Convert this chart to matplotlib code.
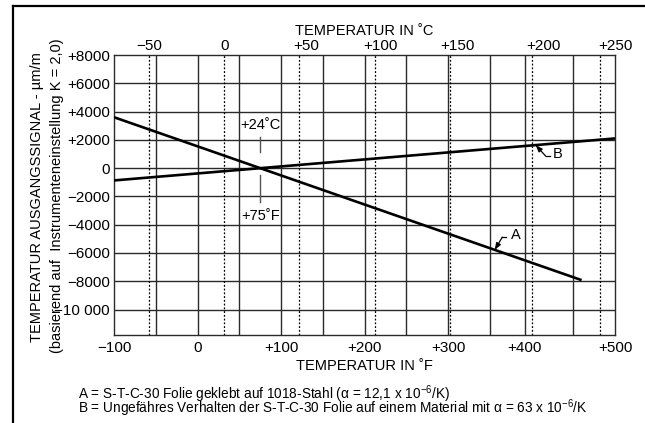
"""Temperature output signal of S-T-C-30 foil vs. temperature."""

import matplotlib

matplotlib.use("Agg")
import matplotlib.pyplot as plt
from matplotlib.lines import Line2D

plt.rcParams["font.family"] = ["Liberation Sans", "DejaVu Sans"]
plt.rcParams["mathtext.fontset"] = "custom"
plt.rcParams["mathtext.rm"] = "Liberation Sans"
plt.rcParams["mathtext.it"] = "Liberation Sans:italic"

# curve A: foil on 1018 steel, curve B: foil on material with alpha = 63e-6/K
temp_a_f = [-100, 460]
signal_a = [3600, -7920]
temp_b_f = [-100, 500]
signal_b = [-870, 2100]

# bottom axis (deg F)
f_tick_labels = ["\u2212100", "0", "+100", "+200", "+300", "+400", "+500"]
# top axis (deg C)
c_tick_labels = ["\u221250", "0", "+50", "+100", "+150", "+200", "+250"]
y_ticks = [8000, 6000, 4000, 2000, 0, -2000, -4000, -6000, -8000, -10000]
y_tick_labels = ["+8000", "+6000", "+4000", "+2000", "0", "\u22122000",
                 "\u22124000", "\u22126000", "\u22128000", "\u221210 000"]

caption_a = "A = S-T-C-30 Folie geklebt auf 1018-Stahl (\u03b1 = 12,1 x 10$^{\\mathregular{-6}}$/K)"
caption_b = ("B = Ungef\u00e4hres Verhalten der S-T-C-30 Folie auf einem Material mit "
             "\u03b1 = 63 x 10$^{\\mathregular{-6}}$/K")

# layout as it appears in the reference drawing (positions in deg F)
f_tick_pos = [-100, 0, 100, 200, 300, 392, 500]
f_grid_pos = [-50, 0, 50, 100, 150, 200, 250, 300, 350, 392, 450]
c_line_pos = [-58, 32, 122, 212, 302, 400, 482]
c_label_pos = [-58, 33, 130, 219, 311, 414, 500]

fig = plt.figure(figsize=(6.45, 4.23), dpi=100)
ax = fig.add_axes([114 / 645, 88 / 423, 501 / 645, 280 / 423])
ax.set_xlim(-100, 500)
ax.set_ylim(-11800, 8000)

grid_kw = dict(color="#2a2a2a", linewidth=1.0, zorder=1)
for x in f_grid_pos:
    ax.axvline(x, **grid_kw)
for y in y_ticks[1:]:
    ax.axhline(y, **grid_kw)
for x in c_line_pos:
    ax.axvline(x, color="black", linewidth=0.9, linestyle=(0, (1.5, 1.5)), zorder=1)

ax.plot(temp_a_f, signal_a, color="black", linewidth=1.9, solid_capstyle="butt", zorder=3)
ax.plot(temp_b_f, signal_b, color="black", linewidth=1.9, solid_capstyle="butt", zorder=3)

for s in ax.spines.values():
    s.set_linewidth(1.0)
    s.set_color("#2a2a2a")

ax.set_xticks(f_tick_pos)
ax.set_xticklabels(f_tick_labels)
ax.set_yticks(y_ticks)
ax.set_yticklabels(y_tick_labels)
ax.tick_params(axis="both", length=0, labelsize=11)
ax.tick_params(axis="x", pad=4)
ax.tick_params(axis="y", pad=3)
ax.set_xlabel("TEMPERATUR IN \u02daF", fontsize=10.5, labelpad=3)

top = ax.twiny()
top.set_xlim(ax.get_xlim())
top.set_xticks(c_label_pos)
top.set_xticklabels(c_tick_labels)
top.tick_params(axis="x", length=0, labelsize=11, pad=1.5)
top.set_xlabel("TEMPERATUR IN \u02daC", fontsize=10.5, labelpad=3)
for s in top.spines.values():
    s.set_visible(False)

# crossing point marks at 75 F / 24 C
ax.plot([75, 75], [2200, 1130], color="#555555", linewidth=1.0)
ax.plot([75, 75], [-500, -2400], color="#555555", linewidth=1.0)
ax.text(75, 3050, "+24\u02daC", ha="center", va="center", fontsize=10.5)
ax.text(75, -3400, "+75\u02daF", ha="center", va="center", fontsize=10.5)

arrow_kw = dict(arrowstyle="-|>,head_length=0.4,head_width=0.15", color="black",
                linewidth=0.9, shrinkA=0, shrinkB=0)
ax.annotate("", xy=(405, 1630), xytext=(417, 850), arrowprops=arrow_kw)
ax.plot([417, 422], [850, 850], color="black", linewidth=0.9)
ax.text(426, 1000, "B", ha="left", va="center", fontsize=10.5)
ax.annotate("", xy=(356, -5780), xytext=(365, -4880), arrowprops=arrow_kw)
ax.plot([365, 370], [-4880, -4880], color="black", linewidth=0.9)
ax.text(375, -4750, "A", ha="left", va="center", fontsize=10.5)

fig.text(37 / 645, 1 - 197 / 423, "TEMPERATUR AUSGANGSSIGNAL - \u00b5m/m",
         rotation=90, ha="center", va="center", fontsize=10.5)
fig.text(57 / 645, 1 - 196 / 423, "(basierend auf  Instrumenteneinstellung K = 2,0)",
         rotation=90, ha="center", va="center", fontsize=10.5)

fig.text(78 / 645, 1 - 398.5 / 423, caption_a, ha="left", va="baseline", fontsize=9.8)
fig.text(78 / 645, 1 - 413 / 423, caption_b, ha="left", va="baseline", fontsize=9.8)

# outer frame (open to the right and bottom)
fig.add_artist(Line2D([12.5 / 645, 12.5 / 645], [0, 1 - 6.5 / 423], color="black", linewidth=1.6))
fig.add_artist(Line2D([12.5 / 645, 1], [1 - 6.5 / 423, 1 - 6.5 / 423], color="black", linewidth=1.6))

fig.savefig("out.png", dpi=100)
